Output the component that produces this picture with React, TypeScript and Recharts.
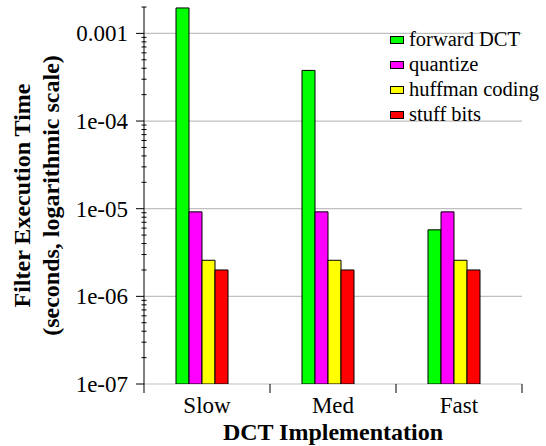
import React from 'react';
import { BarChart, Bar, XAxis, YAxis, CartesianGrid, Legend } from 'recharts';

const categories = ['Slow', 'Med', 'Fast'];
const forwardDCT = [1.95e-3, 3.78e-4, 5.74e-6];
const quantize = [9.2e-6, 9.2e-6, 9.2e-6];
const huffmanCoding = [2.58e-6, 2.58e-6, 2.58e-6];
const stuffBits = [2.0e-6, 2.0e-6, 2.0e-6];

const majorTicks = [1e-7, 1e-6, 1e-5, 1e-4, 1e-3];
const majorLabels = ['1e-07', '1e-06', '1e-05', '1e-04', '0.001'];
const minorMultipliers = [2, 3, 4, 5, 6, 7, 8, 9];
const yDomain = [1e-7, 2e-3];

const seriesNames = ['forward DCT', 'quantize', 'huffman coding', 'stuff bits'];
const seriesKeys = ['fdct', 'quant', 'huff', 'stuff'];
const seriesColors = ['#00ff00', '#ff00ff', '#ffff00', '#ff0000'];

const minorTicks: number[] = [];
majorTicks.forEach((m) => {
  minorMultipliers.forEach((k) => {
    const v = m * k;
    if (v <= yDomain[1] * 1.0001) minorTicks.push(v);
  });
});
const allTicks = [...majorTicks, ...minorTicks].sort((a, b) => a - b);

const data = categories.map((c, i) => ({
  name: c,
  fdct: forwardDCT[i],
  quant: quantize[i],
  huff: huffmanCoding[i],
  stuff: stuffBits[i],
}));

const FAM = "'Liberation Serif'";

const YTick = (props: any) => {
  const { x, y, payload } = props;
  const axisX = x + 16;
  const idx = majorTicks.indexOf(payload.value);
  if (idx >= 0) {
    return (
      <g>
        <line x1={axisX - 8} x2={axisX} y1={y} y2={y} stroke="#000" strokeWidth={1} />
        <text x={x} y={y} dy="0.35em" textAnchor="end" style={{ fontFamily: FAM, fontSize: 23 }} fill="#000">
          {majorLabels[idx]}
        </text>
      </g>
    );
  }
  return <line x1={axisX - 2.5} x2={axisX + 2.5} y1={y} y2={y} stroke="#000" strokeWidth={1} />;
};

const XTick = (props: any) => {
  const { x, y, payload, index } = props;
  const off = payload && payload.offset ? payload.offset : 63;
  const axisY = y - 10;
  return (
    <g>
      <line x1={x - off} x2={x - off} y1={axisY} y2={axisY + 9} stroke="#000" strokeWidth={1} />
      {index === categories.length - 1 ? (
        <line x1={x + off} x2={x + off} y1={axisY} y2={axisY + 9} stroke="#000" strokeWidth={1} />
      ) : null}
      <text x={x} y={y} dy="0.82em" textAnchor="middle" style={{ fontFamily: FAM, fontSize: 23 }} fill="#000">
        {payload.value}
      </text>
    </g>
  );
};

const YTitle = (props: any) => {
  const vb = props.viewBox || { x: 0, y: 7, width: 144, height: 377 };
  const cy = vb.y + vb.height / 2;
  return (
    <g>
      <text
        transform={`translate(30, ${cy}) rotate(-90)`}
        textAnchor="middle"
        style={{ fontFamily: FAM, fontSize: 24, fontWeight: 'bold' }}
        fill="#000"
      >
        Filter Execution Time
      </text>
      <text
        transform={`translate(59, ${cy}) rotate(-90)`}
        textAnchor="middle"
        style={{ fontFamily: FAM, fontSize: 24, fontWeight: 'bold' }}
        fill="#000"
      >
        (seconds, logarithmic scale)
      </text>
    </g>
  );
};

const XTitle = (props: any) => {
  const vb = props.viewBox || { x: 144, y: 384, width: 378, height: 62 };
  return (
    <text
      x={vb.x + vb.width / 2}
      y={vb.y + vb.height - 6}
      textAnchor="middle"
      style={{ fontFamily: FAM, fontSize: 24, fontWeight: 'bold' }}
      fill="#000"
    >
      DCT Implementation
    </text>
  );
};

const LegendContent = () => (
  <svg width={160} height={110} style={{ display: 'block', overflow: 'visible' }}>
    {seriesNames.map((n, i) => {
      const base = 21 + i * 25;
      return (
        <g key={n}>
          <rect x={5.5} y={base - 9.5} width={13} height={7} fill={seriesColors[i]} stroke="#000" strokeWidth={1} />
          <text x={24} y={base} style={{ fontFamily: FAM, fontSize: 20.5 }} fill="#000">
            {n}
          </text>
        </g>
      );
    })}
  </svg>
);

export default function App() {
  return (
    <div style={{ position: 'absolute', left: 0, top: 0, background: '#fff', fontFamily: FAM }}>
      <BarChart
        width={546}
        height={446}
        data={data}
        margin={{ top: 7, right: 24, bottom: 0, left: 0 }}
        barGap={0}
      >
        <CartesianGrid vertical={false} horizontalValues={majorTicks} stroke="#c0c0c0" strokeWidth={1.2} />
        <XAxis
          dataKey="name"
          height={62}
          axisLine={false}
          tickLine={false}
          tickSize={8}
          tickMargin={2}
          interval={0}
          tick={<XTick />}
          label={<XTitle />}
        />
        <YAxis
          scale="log"
          type="number"
          domain={yDomain}
          allowDataOverflow
          ticks={allTicks}
          interval={0}
          width={144}
          tickSize={8}
          tickMargin={8}
          tickLine={false}
          axisLine={{ stroke: '#000', strokeWidth: 1 }}
          tick={<YTick />}
          label={<YTitle />}
        />
        <Legend
          layout="vertical"
          align="center"
          verticalAlign="middle"
          wrapperStyle={{ left: 385, top: 25, width: 160 }}
          content={<LegendContent />}
        />
        {seriesKeys.map((k, i) => (
          <Bar
            key={k}
            dataKey={k}
            name={seriesNames[i]}
            fill={seriesColors[i]}
            stroke="#000"
            strokeWidth={1}
            barSize={13}
            isAnimationActive={false}
          />
        ))}
        <Bar dataKey="pad" barSize={11} fill="none" legendType="none" isAnimationActive={false} />
      </BarChart>
    </div>
  );
}
